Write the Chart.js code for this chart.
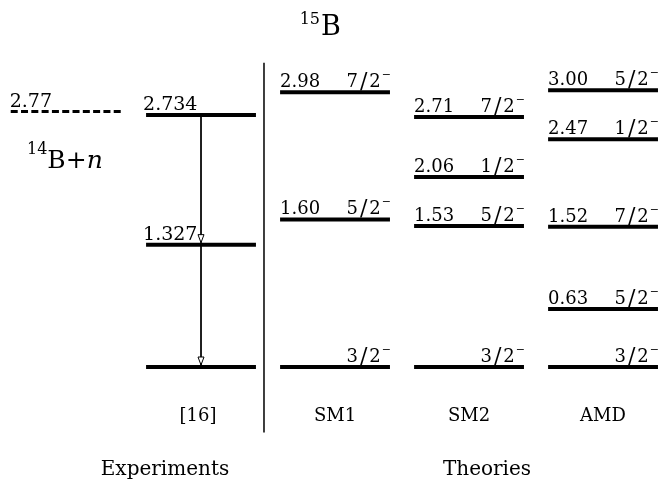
<!DOCTYPE html>
<html>
<head>
<meta charset="utf-8">
<title>15B level scheme</title>
<script src="https://cdn.jsdelivr.net/npm/chart.js@4/dist/chart.umd.min.js"></script>
<style>
  html, body { margin: 0; padding: 0; background: #fff; }
  #wrap { width: 662px; height: 482px; }
</style>
</head>
<body>
<div id="wrap"><canvas id="levels" width="662" height="482"></canvas></div>
<script>
// Level energies (MeV) and spin-parities of 15B
const columnNames = ['[16]', 'SM1', 'SM2', 'AMD'];
const groupNames = ['Experiments', 'Theories'];
const expEnergies = [0, 1.327, 2.734];
const sm1Energies = [0, 1.60, 2.98];
const sm1Spins = ['3/2', '5/2', '7/2'];
const sm2Energies = [0, 1.53, 2.06, 2.71];
const sm2Spins = ['3/2', '5/2', '1/2', '7/2'];
const amdEnergies = [0, 0.63, 1.52, 2.47, 3.00];
const amdSpins = ['3/2', '5/2', '7/2', '1/2', '5/2'];
const thresholdEnergy = 2.77;
const gammaTransitions = [[2.734, 1.327], [1.327, 0]];

const SERIF = '"DejaVu Serif", serif';
const HALF = 0.41;          // half width of a level bar, in column units
const THR_HALF = 0.42;      // half width of the threshold bar
const SEP_X = 1.47;         // separator between experiment and theory columns

// column index: 0 threshold, 1 experiment, 2..4 theories
const theoryCols = [
  { col: 2, energies: sm1Energies, spins: sm1Spins },
  { col: 3, energies: sm2Energies, spins: sm2Spins },
  { col: 4, energies: amdEnergies, spins: amdSpins }
];

function levelSet(col, e, width, dash) {
  const h = dash ? THR_HALF : HALF;
  return {
    data: [{ x: col - h, y: e }, { x: col + h, y: e }],
    showLine: true,
    borderColor: '#000',
    borderWidth: width,
    borderDash: dash || [],
    borderCapStyle: 'butt',
    pointRadius: 0,
    clip: false
  };
}

const datasets = [];
datasets.push(levelSet(0, thresholdEnergy, 3, [7, 3.3]));
expEnergies.forEach(e => datasets.push(levelSet(1, e, 4)));
theoryCols.forEach(t => t.energies.forEach(e => datasets.push(levelSet(t.col, e, 4))));
// gamma line through the experimental levels
gammaTransitions.forEach(([from, to]) => {
  datasets.push({
    data: [{ x: 1, y: from }, { x: 1, y: to }],
    showLine: true, borderColor: '#000', borderWidth: 1,
    pointRadius: 0, clip: false
  });
});
// vertical separator
datasets.push({
  data: [{ x: SEP_X, y: 3.30 }, { x: SEP_X, y: -0.71 }],
  showLine: true, borderColor: '#000', borderWidth: 1.5,
  pointRadius: 0, clip: false
});

// spin-parity like "7/2" with a raised minus, right-aligned at `right`
function spinLabel(ctx, text, right, base) {
  ctx.font = '11px ' + SERIF;
  const mw = ctx.measureText('\u2212').width;
  ctx.textAlign = 'left';
  ctx.fillText('\u2212', right - mw, base - 9);
  const gap = 2;
  const parts = text.split('');
  const fonts = parts.map(c => (c === '/' ? '22px ' : '18px ') + SERIF);
  const widths = parts.map((c, i) => { ctx.font = fonts[i]; return ctx.measureText(c).width; });
  const total = widths.reduce((a, b) => a + b, 0) + gap * (parts.length - 1);
  let x = right - mw - 1 - total;
  parts.forEach((c, i) => {
    ctx.font = fonts[i];
    ctx.fillText(c, x, base + (c === '/' ? 1 : 0));
    x += widths[i] + gap;
  });
}

const labelPlugin = {
  id: 'levelLabels',
  afterDatasetsDraw(chart) {
    const ctx = chart.ctx;
    const xs = chart.scales.x, ys = chart.scales.y;
    ctx.save();
    ctx.fillStyle = '#000';
    ctx.textBaseline = 'alphabetic';

    // title
    ctx.font = '27px ' + SERIF;
    ctx.textAlign = 'left';
    ctx.fillText('B', 321, 35);
    ctx.font = '16px ' + SERIF;
    ctx.textAlign = 'right';
    ctx.fillText('15', 320, 24);

    // threshold
    const ty = ys.getPixelForValue(thresholdEnergy);
    ctx.font = '19px ' + SERIF;
    ctx.textAlign = 'left';
    ctx.fillText(thresholdEnergy.toFixed(2), xs.getPixelForValue(-THR_HALF) - 1, ty - 5);
    ctx.font = '16px ' + SERIF;
    ctx.fillText('14', 27, ty + 42);
    const w14 = ctx.measureText('14').width;
    ctx.font = '25px ' + SERIF;
    ctx.fillText('B+', 27 + w14, ty + 56);
    const wB = ctx.measureText('B+').width;
    ctx.font = 'italic 25px ' + SERIF;
    ctx.fillText('n', 27 + w14 + wB, ty + 56);

    // experimental levels
    ctx.font = '19px ' + SERIF;
    ctx.textAlign = 'left';
    expEnergies.forEach(e => {
      if (e === 0) return;
      ctx.fillText(e.toFixed(3), xs.getPixelForValue(1 - HALF) - 3, ys.getPixelForValue(e) - 5);
    });
    // gamma arrow heads
    gammaTransitions.forEach(([from, to]) => {
      const x = xs.getPixelForValue(1);
      const tip = ys.getPixelForValue(to) - 2;
      ctx.beginPath();
      ctx.moveTo(x, tip);
      ctx.lineTo(x - 3, tip - 8);
      ctx.lineTo(x + 3, tip - 8);
      ctx.closePath();
      ctx.fillStyle = '#fff';
      ctx.fill();
      ctx.lineWidth = 1;
      ctx.strokeStyle = '#000';
      ctx.stroke();
      ctx.fillStyle = '#000';
    });

    // theoretical levels
    theoryCols.forEach(t => {
      const left = xs.getPixelForValue(t.col - HALF);
      const right = xs.getPixelForValue(t.col + HALF);
      t.energies.forEach((e, i) => {
        const base = ys.getPixelForValue(e) - 5;
        if (e !== 0) {
          ctx.font = '18px ' + SERIF;
          ctx.textAlign = 'left';
          ctx.fillText(e.toFixed(2), left, base);
        }
        spinLabel(ctx, t.spins[i], right + 1, base);
      });
    });

    // column names
    ctx.font = '18px ' + SERIF;
    ctx.textAlign = 'center';
    columnNames.forEach((n, i) => {
      ctx.fillText(n, xs.getPixelForValue(i + 1) - (i === 0 ? 3 : 0), 421);
    });
    // group names
    ctx.font = '20px ' + SERIF;
    ctx.fillText(groupNames[0], 165, 475);
    ctx.fillText(groupNames[1], 487, 475);
    ctx.restore();
  }
};

new Chart(document.getElementById('levels'), {
  type: 'scatter',
  data: { datasets },
  options: {
    responsive: false,
    devicePixelRatio: 1,
    animation: false,
    layout: { padding: 0 },
    plugins: { legend: { display: false }, tooltip: { enabled: false } },
    scales: {
      x: { type: 'linear', display: false, min: -0.5, max: 4.44 },
      y: { type: 'linear', display: false, min: -1.247, max: 3.98 }
    }
  },
  plugins: [labelPlugin]
});
</script>
</body>
</html>
